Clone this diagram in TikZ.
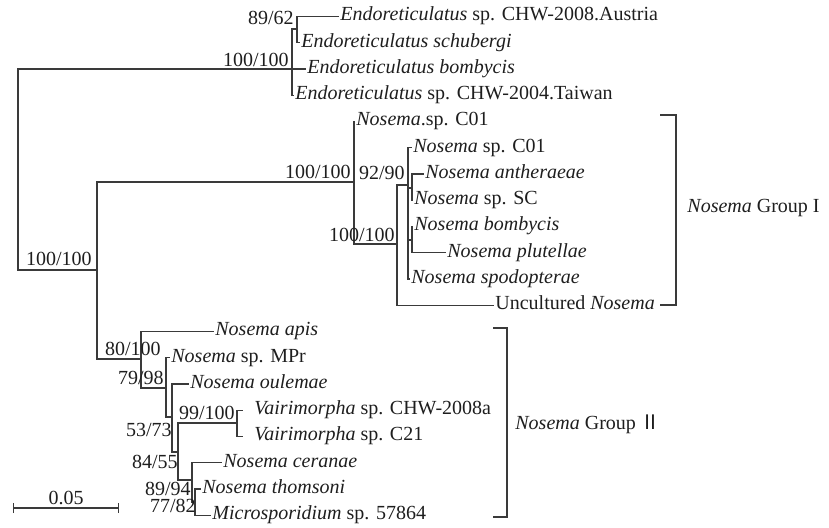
\documentclass[tikz,border=0pt]{standalone}
\usepackage{fontspec}
\setmainfont{Liberation Serif}
\newfontfamily\cjk{Noto Sans CJK SC}
\usetikzlibrary{arrows.meta}
\definecolor{treeline}{HTML}{3a3a3a}
\definecolor{treetext}{HTML}{1e1e1e}
\tikzset{
  branch/.style={draw=treeline,line width=0.65pt},
  leaf/.style={anchor=west,inner xsep=0.5pt,inner ysep=0pt,text height=0.7em,text depth=0.25em,text=treetext},
  boot/.style={anchor=base east,inner sep=0pt,text=treetext},
}
\begin{document}
\begin{tikzpicture}[x=0.5pt,y=-0.5pt,font=\fontsize{10}{12}\selectfont]
  \useasboundingbox (0,0) rectangle (829,528);
  \coordinate (root) at (18,170);
  \coordinate (nE) at (292,69);
  \coordinate (nF) at (297,29);
  \coordinate (nA) at (97,270);
  \coordinate (nB) at (354,182);
  \coordinate (nC) at (397,244);
  \coordinate (nD) at (408,185);
  \coordinate (nG) at (412,188);
  \coordinate (nH) at (412,240);
  \coordinate (nI) at (141,359);
  \coordinate (nJ) at (166,388);
  \coordinate (nK) at (172,417);
  \coordinate (nL) at (178,452);
  \coordinate (nM) at (237,423);
  \coordinate (nN) at (192,480);
  \coordinate (nO) at (195,502);

  \node[leaf] (lfEaus) at (339,16.5) {\emph{Endoreticulatus} sp. CHW-2008.Austria};
  \node[leaf] (lfEsch) at (300,42.8) {\emph{Endoreticulatus schubergi}};
  \node[leaf] (lfEbom) at (306,69) {\emph{Endoreticulatus bombycis}};
  \node[leaf] (lfEtai) at (294,95.3) {\emph{Endoreticulatus} sp. CHW-2004.Taiwan};
  \node[leaf] (lfNc01a) at (355,121.5) {\emph{Nosema}.sp. C01};
  \node[leaf] (lfNc01b) at (412,147.8) {\emph{Nosema} sp. C01};
  \node[leaf] (lfNant) at (424,174) {\emph{Nosema antheraeae}};
  \node[leaf] (lfNsc) at (413,200.3) {\emph{Nosema} sp. SC};
  \node[leaf] (lfNbom) at (413,226.5) {\emph{Nosema bombycis}};
  \node[leaf] (lfNplu) at (446,252.8) {\emph{Nosema plutellae}};
  \node[leaf] (lfNspo) at (410,279) {\emph{Nosema spodopterae}};
  \node[leaf] (lfUnc) at (494,305.3) {Uncultured \emph{Nosema}};
  \node[leaf] (lfNapi) at (214,331.5) {\emph{Nosema apis}};
  \node[leaf] (lfNmpr) at (170,357.8) {\emph{Nosema} sp. MPr};
  \node[leaf] (lfNoul) at (189,384) {\emph{Nosema oulemae}};
  \node[leaf] (lfVchw) at (243,410.3) {\hspace{0.5em}\emph{Vairimorpha} sp. CHW-2008a};
  \node[leaf] (lfVc21) at (243,436.5) {\hspace{0.5em}\emph{Vairimorpha} sp. C21};
  \node[leaf] (lfNcer) at (222,462.8) {\emph{Nosema ceranae}};
  \node[leaf] (lfNtho) at (201,489) {\emph{Nosema thomsoni}};
  \node[leaf] (lfMic) at (211,515.3) {\emph{Microsporidium} sp. 57864};

  \draw[branch] (root) |- (nE) (root) |- (nA);
  \draw[branch] (nE) |- (nF) (nE) |- (lfEbom.west) (nE) |- (lfEtai.west);
  \draw[branch] (nF) |- (lfEaus.west) (nF) |- (lfEsch.west);
  \draw[branch] (nA) |- (nB) (nA) |- (nI);
  \draw[branch] (nB) |- (lfNc01a.west) (nB) |- (nC);
  \draw[branch] (nC) |- (nD) (nC) |- (lfUnc.west);
  \draw[branch] (nD) |- (lfNc01b.west) (nD) |- (nG) (nD) |- (nH) (nD) |- (lfNspo.west);
  \draw[branch] (nG) |- (lfNant.west) (nG) |- (lfNsc.west);
  \draw[branch] (nH) |- (lfNbom.west) (nH) |- (lfNplu.west);
  \draw[branch] (nI) |- (lfNapi.west) (nI) |- (nJ);
  \draw[branch] (nJ) |- (lfNmpr.west) (nJ) |- (nK);
  \draw[branch] (nK) |- (lfNoul.west) (nK) |- (nL);
  \draw[branch] (nL) |- (nM) (nL) |- (nN);
  \draw[branch] (nM) |- (lfVchw.west) (nM) |- (lfVc21.west);
  \draw[branch] (nN) |- (lfNcer.west) (nN) |- (nO);
  \draw[branch] (nO) |- (lfNtho.west) (nO) |- (lfMic.west);

  \node[boot] (bsF) at (294,25) {89/62};
  \node[boot] (bsE) at (289,67) {100/100};
  \node[boot] (bsA) at (92,266) {100/100};
  \node[boot] (bsB) at (351,179) {100/100};
  \node[boot] (bsC) at (395,242) {100/100};
  \node[boot] (bsD) at (405,180) {92/90};
  \node[boot] (bsI) at (161,356) {80/100};
  \node[boot] (bsJ) at (164,385) {79/98};
  \node[boot] (bsK) at (172,437) {53/73};
  \node[boot] (bsL) at (178,468) {84/55};
  \node[boot] (bsM) at (235,420) {99/100};
  \node[boot] (bsN) at (191,495) {89/94};
  \node[boot] (bsO) at (196,512) {77/82};

  \coordinate (gIt) at (676,115);
  \coordinate (gIb) at (676,305);
  \draw[branch] ([xshift=-8pt]gIt) -- (gIt) -- (gIb) -- ([xshift=-8pt]gIb);
  \node[leaf] (gI) at (686,208) {\emph{Nosema} Group I};
  \coordinate (gIIt) at (507,328);
  \coordinate (gIIb) at (507,517);
  \draw[branch] ([xshift=-7pt]gIIt) -- (gIIt) -- (gIIb) -- ([xshift=-7pt]gIIb);
  \node[leaf] (gII) at (514,425) {\emph{Nosema} Group {\cjk Ⅱ}};

  \coordinate (sbL) at (13,508);
  \coordinate (sbR) at (119,508);
  \draw[branch,{Bar[width=5pt]}-{Bar[width=5pt]}] (sbL) -- (sbR);
  \node[anchor=base,inner sep=0pt,text=treetext] (sbT) at (66,504) {0.05};
\end{tikzpicture}
\end{document}
